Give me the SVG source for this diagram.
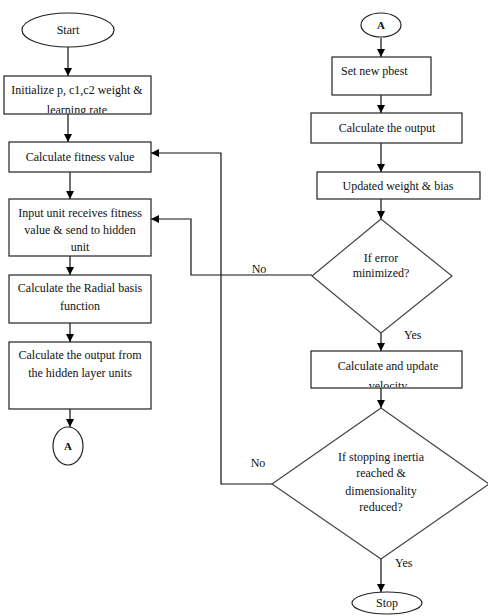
<svg xmlns="http://www.w3.org/2000/svg" width="488" height="616" viewBox="0 0 488 616" font-family="'Liberation Serif', 'DejaVu Serif', 'Times New Roman', serif">
<style>
.box{fill:#fff;stroke:#222;stroke-width:1.2}
.dia{fill:#fff;stroke:#444;stroke-width:1.2}
.ln{fill:none;stroke:#111;stroke-width:1.2}
text{font-family:'Liberation Serif','DejaVu Serif',serif;font-size:12px;fill:#111}
.c{text-anchor:middle}
</style>
<defs>
<marker id="ah" markerUnits="userSpaceOnUse" markerWidth="10" markerHeight="10" refX="8" refY="4" orient="auto">
<path d="M0,0 L8,4 L0,8 Z" fill="#000"/>
</marker>
<clipPath id="cb1"><rect x="4" y="76" width="147" height="37"/></clipPath>
<clipPath id="cb2"><rect x="311" y="351" width="151" height="36"/></clipPath>
</defs>
<rect width="488" height="616" fill="#fff"/>

<g id="connectors">
<line class="ln" x1="68" y1="47" x2="68" y2="76" marker-end="url(#ah)"/>
<line class="ln" x1="68" y1="114" x2="68" y2="142" marker-end="url(#ah)"/>
<line class="ln" x1="70" y1="172" x2="70" y2="199" marker-end="url(#ah)"/>
<line class="ln" x1="70" y1="256" x2="70" y2="275" marker-end="url(#ah)"/>
<line class="ln" x1="70" y1="323" x2="70" y2="342" marker-end="url(#ah)"/>
<line class="ln" x1="70" y1="409" x2="70" y2="427" marker-end="url(#ah)"/>
<line class="ln" x1="381" y1="38" x2="381" y2="57" marker-end="url(#ah)"/>
<line class="ln" x1="381" y1="95" x2="381" y2="113" marker-end="url(#ah)"/>
<line class="ln" x1="381" y1="143" x2="381" y2="172" marker-end="url(#ah)"/>
<line class="ln" x1="381" y1="199" x2="381" y2="219" marker-end="url(#ah)"/>
<line class="ln" x1="381" y1="333" x2="381" y2="351" marker-end="url(#ah)"/>
<line class="ln" x1="381" y1="388" x2="381" y2="408" marker-end="url(#ah)"/>
<line class="ln" x1="381" y1="559" x2="381" y2="592" marker-end="url(#ah)"/>
<polyline class="ln" points="312,275 191,275 191,219 151,219" marker-end="url(#ah)"/>
<polyline class="ln" points="272,484 221,484 221,153 151,153" marker-end="url(#ah)"/>
<text x="259" y="273" class="c">No</text>
<text x="258" y="467" class="c">No</text>
<text x="404" y="339">Yes</text>
<text x="395" y="567">Yes</text>
</g>

<g id="start">
<ellipse cx="68" cy="30" rx="46" ry="17" class="box"/>
<text x="68" y="34" class="c">Start</text>
</g>
<g id="init">
<rect x="4" y="76" width="147" height="38" class="box"/>
<text x="77" y="94" class="c">Initialize p, c1,c2 weight &amp;</text>
<text x="77" y="114" class="c" clip-path="url(#cb1)">learning rate</text>
</g>
<g id="fitness">
<rect x="9" y="142" width="142" height="30" class="box"/>
<text x="80" y="161" class="c">Calculate fitness value</text>
</g>
<g id="input">
<rect x="9" y="199" width="142" height="57" class="box"/>
<text x="80" y="217" class="c">Input unit receives fitness</text>
<text x="80" y="234" class="c">value &amp; send to hidden</text>
<text x="80" y="251" class="c">unit</text>
</g>
<g id="radial">
<rect x="9" y="275" width="142" height="48" class="box"/>
<text x="80" y="292" class="c">Calculate the Radial basis</text>
<text x="80" y="310" class="c">function</text>
</g>
<g id="hidden">
<rect x="9" y="342" width="142" height="67" class="box"/>
<text x="80" y="359" class="c">Calculate the output from</text>
<text x="80" y="377" class="c">the hidden layer units</text>
</g>
<g id="connA1">
<ellipse cx="68" cy="446" rx="15" ry="19" class="box"/>
<text x="68" y="450" class="c" font-weight="bold" style="font-size:11px">A</text>
</g>
<g id="connA2">
<ellipse cx="381" cy="25" rx="20" ry="12" class="box"/>
<text x="381" y="29" class="c" font-weight="bold" style="font-size:11px">A</text>
</g>
<g id="pbest">
<rect x="332" y="57" width="99" height="38" class="box"/>
<text x="341" y="75">Set new pbest</text>
</g>
<g id="output">
<rect x="311" y="113" width="151" height="30" class="box"/>
<text x="387" y="132" class="c">Calculate the output</text>
</g>
<g id="update">
<rect x="317" y="172" width="163" height="27" class="box"/>
<text x="398" y="190" class="c">Updated weight &amp; bias</text>
</g>
<g id="errorDecision">
<polygon points="381,219 452,276 381,333 312,276" class="dia"/>
<text x="381" y="262" class="c">If error</text>
<text x="381" y="277" class="c">minimized?</text>
</g>
<g id="velocity">
<rect x="311" y="351" width="151" height="37" class="box"/>
<text x="388" y="370" class="c">Calculate and update</text>
<text x="388" y="390" class="c" clip-path="url(#cb2)">velocity</text>
</g>
<g id="stopDecision">
<polygon points="381,408 489,484 381,559 272,484" class="dia"/>
<text x="381" y="461" class="c">If stopping inertia</text>
<text x="381" y="477" class="c">reached &amp;</text>
<text x="381" y="495" class="c">dimensionality</text>
<text x="381" y="511" class="c">reduced?</text>
</g>
<g id="stop">
<ellipse cx="387" cy="603" rx="35" ry="11" class="box"/>
<text x="387" y="607" class="c">Stop</text>
</g>
</svg>
